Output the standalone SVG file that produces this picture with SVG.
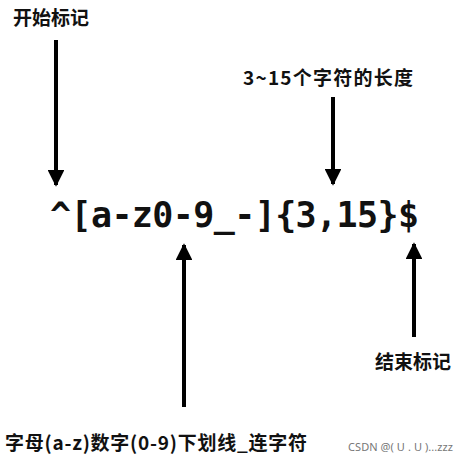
<svg xmlns="http://www.w3.org/2000/svg" width="468" height="462" viewBox="0 0 468 462">
<style>
.lbl{font-family:"Noto Sans CJK SC","Noto Sans",sans-serif;font-weight:bold;font-size:19px;fill:#111}
.rx{font-family:"DejaVu Sans Mono","Liberation Mono",monospace;font-weight:bold;font-size:35px;fill:#111}
.wm{font-family:"Noto Sans","Noto Sans CJK SC",sans-serif;font-size:11px;fill:#777}
.ln{stroke:#000;stroke-width:4;fill:none}
</style>
<defs>
<marker id="ah" viewBox="0 0 10 10" refX="9" refY="5" markerWidth="4.2" markerHeight="4.2" markerUnits="strokeWidth" orient="auto">
<path d="M0,0 L10,5 L0,10 z" fill="#000"/>
</marker>
</defs>
<rect width="468" height="462" fill="#fff"/>
<g id="connectors">
<line class="ln" x1="56" y1="40" x2="56" y2="185" marker-end="url(#ah)"/>
<line class="ln" x1="333" y1="97" x2="333" y2="184" marker-end="url(#ah)"/>
<line class="ln" x1="184" y1="407" x2="184" y2="245" marker-end="url(#ah)"/>
<line class="ln" x1="414" y1="337" x2="414" y2="244" marker-end="url(#ah)"/>
</g>
<g id="regex"><text class="rx" x="50" y="227" textLength="369" lengthAdjust="spacing">^[a-z0-9_-]{3,15}$</text></g>
<g id="start"><text class="lbl" x="13" y="25">开始标记</text></g>
<g id="length"><text class="lbl" x="243" y="85" textLength="170">3~15个字符的长度</text></g>
<g id="end"><text class="lbl" x="375" y="369">结束标记</text></g>
<g id="chars"><text class="lbl" x="5" y="450" textLength="302">字母(a-z)数字(0-9)下划线_连字符</text></g>
<text class="wm" x="348" y="451" textLength="105">CSDN @( U . U )...zzz</text>
</svg>
